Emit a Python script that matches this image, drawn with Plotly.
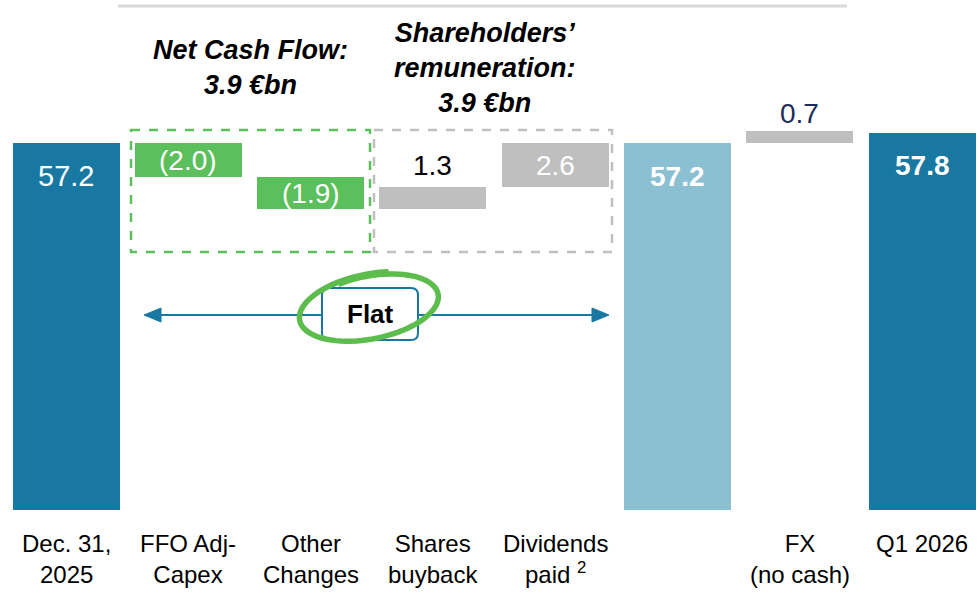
import math
import plotly.graph_objects as go

# ---- data ----
categories = ["Dec. 31,<br>2025", "FFO Adj-<br>Capex", "Other<br>Changes", "Shares<br>buyback",
              "Dividends<br>paid <sup>2</sup>", "", "FX<br>(no cash)", "Q1 2026"]
values = [57.2, -2.0, -1.9, 1.3, 2.6, 57.2, 0.7, 57.8]
measures = ["total", "relative", "relative", "relative", "relative", "total", "relative", "total"]
value_labels = ["57.2", "(2.0)", "(1.9)", "1.3", "2.6", "57.2", "0.7", "57.8"]
group_titles = ["<b><i>Net Cash Flow:<br>3.9 €bn</i></b>",
                "<b><i>Shareholders’<br>remuneration:<br>3.9 €bn</i></b>"]
flat_label = "Flat"

DARK = "#1878a2"
LIGHT = "#8bbfd2"
GREEN = "#5bbf5b"
GRAY = "#bfbfbf"
bar_colors = [DARK, GREEN, GREEN, GRAY, GRAY, LIGHT, GRAY, DARK]

W, H = 980, 601
PLOT_H = 510
YMIN = 57.2 - (510 - 143) / 17.0
YMAX = YMIN + PLOT_H / 17.0
X0 = -0.54
X1 = X0 + W / 122.3

def px(x):
    return x / W

def py(y):
    return (PLOT_H - y) / PLOT_H

# waterfall bases
bases, heights = [], []
running = 0.0
for v, m in zip(values, measures):
    if m == "total":
        bases.append(YMIN)
        heights.append(v - YMIN)
        running = v
    else:
        if v < 0:
            bases.append(running + v)
            heights.append(-v)
        else:
            bases.append(running)
            heights.append(v)
        running += v

xs = list(range(len(values)))
fig = go.Figure()
fig.add_trace(go.Bar(x=xs, y=heights, base=bases, width=0.875,
                     marker=dict(color=bar_colors, line=dict(width=0)),
                     hoverinfo="skip", showlegend=False))

FONT = "Liberation Sans"
annotations = []
for i, (b, h, m, lab) in enumerate(zip(bases, heights, measures, value_labels)):
    top = b + h
    if m == "total":
        bold = i > 0
        annotations.append(dict(x=i, y=top, xref="x", yref="y", yshift=-33,
                                xanchor="center", yanchor="middle",
                                text=f"<b>{lab}</b>" if bold else lab, showarrow=False,
                                font=dict(family=FONT, size=29 if not bold else 28, color="white")))
    elif values[i] < 0 or i == 4:
        annotations.append(dict(x=i, y=b + h / 2, xref="x", yref="y",
                                xanchor="center", yanchor="middle",
                                text=lab, showarrow=False,
                                font=dict(family=FONT, size=28, color="white")))
    else:
        col = "#000000" if i == 3 else "#1c2d5a"
        annotations.append(dict(x=i, y=top, xref="x", yref="y", yshift=22 if i == 3 else 18,
                                xanchor="center", yanchor="middle",
                                text=lab, showarrow=False,
                                font=dict(family=FONT, size=28, color=col)))

# category labels
for i, c in enumerate(categories):
    if not c:
        continue
    annotations.append(dict(x=i, y=py(528), xref="x", yref="paper", yanchor="top", xanchor="center",
                            text=c, showarrow=False, align="center",
                            font=dict(family=FONT, size=24, color="black")))

# group titles
annotations.append(dict(x=px(250), y=py(68), xref="paper", yref="paper", text=group_titles[0],
                        xanchor="center", yanchor="middle",
                        showarrow=False, align="center",
                        font=dict(family=FONT, size=27, color="black")))
annotations.append(dict(x=px(485), y=py(68), xref="paper", yref="paper", text=group_titles[1],
                        xanchor="center", yanchor="middle",
                        showarrow=False, align="center",
                        font=dict(family=FONT, size=27, color="black")))
annotations.append(dict(x=px(370), y=py(314), xref="paper", yref="paper", text=f"<b>{flat_label}</b>",
                        xanchor="center", yanchor="middle",
                        showarrow=False, font=dict(family=FONT, size=26, color="black")))

shapes = []
# top gray line
shapes.append(dict(type="line", xref="paper", yref="paper", x0=px(118), x1=px(847),
                   y0=py(6), y1=py(6), line=dict(color="#d9d9d9", width=3)))
# dashed boxes
shapes.append(dict(type="rect", xref="paper", yref="paper", x0=px(131), x1=px(370),
                   y0=py(130), y1=py(252), line=dict(color=GREEN, width=2.5, dash="dash"), layer="below"))
shapes.append(dict(type="rect", xref="paper", yref="paper", x0=px(374), x1=px(612),
                   y0=py(130), y1=py(252), line=dict(color=GRAY, width=2.5, dash="dash"), layer="below"))

# double arrow (line + triangular heads)
AY = 315
shapes.append(dict(type="line", xref="paper", yref="paper", x0=px(158), x1=px(596),
                   y0=py(AY), y1=py(AY), line=dict(color=DARK, width=2), layer="above"))
def tri(tip, base_x, half):
    return (f"M {px(tip)} {py(AY)} L {px(base_x)} {py(AY - half)} "
            f"L {px(base_x)} {py(AY + half)} Z")
shapes.append(dict(type="path", xref="paper", yref="paper", path=tri(144, 161, 7),
                   fillcolor=DARK, line=dict(color=DARK, width=1), layer="above"))
shapes.append(dict(type="path", xref="paper", yref="paper", path=tri(609, 592, 7),
                   fillcolor=DARK, line=dict(color=DARK, width=1), layer="above"))

# Flat box (rounded)
def rounded(x0, y0, x1, y1, r):
    d = f"M {px(x0 + r)} {py(y0)} L {px(x1 - r)} {py(y0)} Q {px(x1)} {py(y0)} {px(x1)} {py(y0 + r)} "
    d += f"L {px(x1)} {py(y1 - r)} Q {px(x1)} {py(y1)} {px(x1 - r)} {py(y1)} "
    d += f"L {px(x0 + r)} {py(y1)} Q {px(x0)} {py(y1)} {px(x0)} {py(y1 - r)} "
    d += f"L {px(x0)} {py(y0 + r)} Q {px(x0)} {py(y0)} {px(x0 + r)} {py(y0)} Z"
    return d

shapes.append(dict(type="path", xref="paper", yref="paper", path=rounded(322, 288, 418, 340, 7),
                   fillcolor="white", line=dict(color=DARK, width=2), layer="above"))

# hand-drawn green ellipse
cx, cy, rx, ry, rot = 370, 307, 73, 33, math.radians(-11)
pts = []
n = 90
start = math.radians(-70)
for k in range(n + 1):
    t = start - k / n * 2 * math.pi * 1.12
    s = 1.0 - 0.07 * k / n
    ex, ey = rx * s * math.cos(t), ry * s * math.sin(t)
    X = cx + ex * math.cos(rot) - ey * math.sin(rot)
    Y = cy + ex * math.sin(rot) + ey * math.cos(rot)
    pts.append((X, Y))
path = "M " + " L ".join(f"{px(X):.5f} {py(Y):.5f}" for X, Y in pts)
shapes.append(dict(type="path", xref="paper", yref="paper", path=path,
                   line=dict(color="#5cbd4c", width=5.5), layer="above"))

fig.update_layout(
    width=W, height=H,
    margin=dict(l=0, r=0, t=0, b=H - PLOT_H, pad=0),
    paper_bgcolor="white", plot_bgcolor="white",
    xaxis=dict(range=[X0, X1], visible=False, fixedrange=True),
    yaxis=dict(range=[YMIN, YMAX], visible=False, fixedrange=True),
    annotations=annotations, shapes=shapes, bargap=0,
)
fig.write_html("out.html", config={"displayModeBar": False},
               post_script="document.body.style.margin='0';document.body.style.overflow='hidden';")
